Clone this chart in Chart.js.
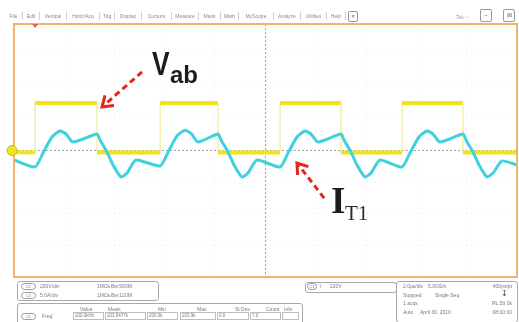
<!DOCTYPE html>
<html><head><meta charset="utf-8">
<script src="https://cdn.jsdelivr.net/npm/chart.js@4.4.0/dist/chart.umd.min.js"></script>
<style>
html,body{margin:0;padding:0;background:#fff;width:519px;height:322px;overflow:hidden;font-family:"Liberation Sans",Arial,sans-serif;}
#c{position:absolute;left:0;top:0;}
.t{position:absolute;font-size:5px;line-height:6px;color:#7a7a7a;white-space:nowrap;}
.m{position:absolute;top:12px;height:8px;font-size:5px;line-height:8px;color:#8a8a8a;border-right:1px solid #cfcfcf;text-align:center;white-space:nowrap;}
.box{position:absolute;border:1px solid #a8a8a8;border-radius:3px;background:#fff;}
.pill{position:absolute;border:1px solid #9a9a9a;border-radius:4px;width:13px;height:5px;font-size:4px;line-height:5px;text-align:center;color:#777;}
.cell{position:absolute;border:1px solid #bdbdbd;height:6px;font-size:4.5px;line-height:6px;color:#7a7a7a;padding-left:1px;white-space:nowrap;}
.btn{position:absolute;top:9px;width:10px;height:11px;border:1px solid #999;border-radius:2px;font-size:6px;line-height:11px;text-align:center;color:#666;}
</style></head><body>
<canvas id="c" width="519" height="322"></canvas>
<div id="ui"></div>
<script>
// ---- data (time in µs, 2 µs/div) ----
const timeTicks = [-10,-8,-6,-4,-2,0,2,4,6,8,10];
// Vab (V, 200 V/div)
const vabTime  = [-10,-9.16,-9.16,-6.70,-6.70,-4.19,-4.19,-1.89,-1.89,0.58,0.58,3.00,3.00,5.43,5.43,7.85,7.85,10];
const vabVolts = [-12,-12,300,300,-12,-12,300,300,-12,-12,300,300,-12,-12,300,300,-12,-12];
// I_T1 (A, 5 A/div)
const it1Time = [-10.00,
  -9.165,-8.847,-8.489,-8.171,-7.932,-7.654,
  -6.700,-6.580,-6.302,-6.063,-5.745,-5.507,-5.149,
  -4.195,-3.877,-3.519,-3.201,-2.962,-2.684,
  -1.889,-1.769,-1.491,-1.252,-0.934,-0.696,-0.338,
  0.577,0.895,1.253,1.571,1.809,2.087,
  3.002,3.121,3.400,3.638,3.956,4.195,4.553,
  5.427,5.746,6.103,6.421,6.660,6.938,
  7.853,7.972,8.250,8.489,8.807,9.046,9.404,10.0];
const it1Amps = [-1.50,
  -2.61,-0.40,2.14,3.09,2.61,1.34,
  2.61,1.66,-0.24,-2.29,-4.19,-3.56,-1.50,
  -2.45,-0.30,2.30,3.20,2.70,1.34,
  2.61,1.66,-0.24,-2.29,-4.19,-3.56,-1.50,
  -2.61,-0.40,2.14,3.09,2.61,1.34,
  2.61,1.66,-0.24,-2.29,-4.19,-3.56,-1.50,
  -2.61,-0.40,2.14,3.09,2.61,1.34,
  2.61,1.66,-0.24,-2.29,-4.19,-3.56,-1.65,-2.30];

// ---- UI text ----
const menuItems = [["File",5,23],["Edit",23,40],["Vertical",40,67],["Horiz/Acq",67,100],["Trig",100,115],["Display",115,142],["Cursors",142,172],["Measure",172,199],["Mask",199,221],["Math",221,239],["MyScope",239,274],["Analyze",274,301],["Utilities",301,327],["Help",327,346]];
const chanRows = [["C1","200V/div","1MΩ","Bw:500M"],["C2","5.0A/div","1MΩ","Bw:120M"]];
const measHeaders = [["Value",80],["Mean",108],["Min",158],["Max",197],["St Dev",235],["Count",266],["Info",284]];
const measCells = [["200.0kHz",73,30],["203.5477k",105,40],["200.0k",147,30],["203.9k",180,35],["0.0",217,31],["7.0",250,30],["",282,16]];
const acqRows = [["2.0µs/div","5.0GS/s","400ps/pt"],["Stopped","Single Seq",""],["1 acqs","","RL:50.0k"],["Auto","April 30, 2010","08:00:00"]];

const ui = document.getElementById('ui');
function add(cls, style, text){const d=document.createElement('div');d.className=cls;d.setAttribute('style',style);d.textContent=text;ui.appendChild(d);return d;}
menuItems.forEach(m=>add('m',`left:${m[1]}px;width:${m[2]-m[1]-1}px;`,m[0]));
add('btn','left:348px;width:8px;height:9px;top:11px;line-height:9px;font-size:5px;','✕');
add('t','left:456px;top:14px;color:#999;','Tek ◦◦');
add('btn','left:480px;','–');
add('btn','left:503px;','⊠');
// channel box
add('box','left:17px;top:281px;width:140px;height:18px;','');
chanRows.forEach((r,i)=>{const y=283+i*9;
  add('pill',`left:21px;top:${y}px;`,r[0]);
  add('t',`left:40px;top:${y}px;`,r[1]);
  add('t',`left:97px;top:${y}px;`,r[2]);
  add('t',`left:107px;top:${y}px;`,'↳'+r[3]);
});
// measurement box
add('box','left:17px;top:303px;width:284px;height:24px;','');
measHeaders.forEach(h=>add('t',`left:${h[1]}px;top:306px;`,h[0]));
add('pill','left:21px;top:313px;','C1');
add('t','left:42px;top:313px;','Freq\'');
measCells.forEach(c=>add('cell',`left:${c[1]}px;top:312px;width:${c[2]-2}px;`,c[0]));
// trigger box
add('box','left:305px;top:282px;width:90px;height:9px;','');
add('pill','left:307px;top:283px;width:8px;','C1');
add('t','left:320px;top:283px;color:#666;','/');
add('t','left:330px;top:283px;','220V');
// acquisition box
add('box','left:396px;top:281px;width:120px;height:40px;','');
acqRows.forEach((r,i)=>{const y=283+i*8.5;
  add('t',`left:403px;top:${y}px;`,r[0]);
  if(r[1]) add('t',`left:${i===3?420:(i===0?428:435)}px;top:${y}px;`,r[1]);
  if(r[2]) add('t',`right:${519-512}px;top:${y}px;`,r[2]);
});
add('t','left:501px;top:289px;font-size:8px;line-height:9px;color:#444;','↧');

// ---- annotations (data coords: x µs, y V) ----
const notes = {
  vArrow:{tip:[-6.50,275],tail:[-4.91,497]},
  iArrow:{tip:[1.25,-79],tail:[2.33,-301]},
  vText:{pos:[-4.51,478]}, vSub:{pos:[-3.80,427]},
  iText:{pos:[2.60,-396]}, iSub:{pos:[3.16,-440]}
};

const overlay = {
  id:'overlay',
  afterDatasetsDraw(chart){
    const {ctx, chartArea:a, scales} = chart;
    const X=v=>scales.x.getPixelForValue(v), Y=v=>scales.yV.getPixelForValue(v);
    ctx.save();
    // border
    ctx.strokeStyle='#f1b468'; ctx.lineWidth=2;
    ctx.strokeRect(a.left,a.top,a.right-a.left,a.bottom-a.top);
    // ch1 ground marker
    ctx.fillStyle='#f2e31e'; ctx.strokeStyle='#cdb800'; ctx.lineWidth=1;
    ctx.beginPath(); ctx.arc(a.left-2,Y(0),5,0,Math.PI*2); ctx.fill(); ctx.stroke();
    // trigger position marker
    const tx=X(vabTime[1]);
    ctx.fillStyle='#e0603a';
    ctx.beginPath(); ctx.moveTo(tx-3,a.top); ctx.lineTo(tx+3,a.top); ctx.lineTo(tx,a.top+4); ctx.closePath(); ctx.fill();
    // arrows
    function arrow(n){
      const x1=X(n.tail[0]),y1=Y(n.tail[1]),x2=X(n.tip[0]),y2=Y(n.tip[1]);
      const ang=Math.atan2(y2-y1,x2-x1);
      ctx.strokeStyle='#e3241f'; ctx.lineWidth=3; ctx.lineCap='butt';
      ctx.setLineDash([6,4]);
      ctx.beginPath(); ctx.moveTo(x1,y1); ctx.lineTo(x2-Math.cos(ang)*3,y2-Math.sin(ang)*3); ctx.stroke();
      ctx.setLineDash([]);
      ctx.lineJoin='miter';
      const L=12,s=0.6;
      ctx.beginPath();
      ctx.moveTo(x2-L*Math.cos(ang-s),y2-L*Math.sin(ang-s));
      ctx.lineTo(x2,y2);
      ctx.lineTo(x2-L*Math.cos(ang+s),y2-L*Math.sin(ang+s));
      ctx.stroke();
    }
    arrow(notes.vArrow); arrow(notes.iArrow);
    // texts
    ctx.fillStyle='#1c1c1c'; ctx.textBaseline='alphabetic'; ctx.textAlign='left';
    let p=notes.vText.pos;
    ctx.save(); ctx.translate(X(p[0]),Y(p[1])); ctx.scale(0.8,1);
    ctx.font='bold 33px "Liberation Sans"'; ctx.fillText('V',0,0); ctx.restore();
    p=notes.vSub.pos; ctx.font='bold 24px "Liberation Sans"'; ctx.fillText('ab',X(p[0]),Y(p[1]));
    p=notes.iText.pos; ctx.font='bold 37px "Liberation Serif"'; ctx.fillText('I',X(p[0]),Y(p[1]));
    p=notes.iSub.pos; ctx.fillStyle='#2a2a2a'; ctx.font='21px "Liberation Serif"'; ctx.fillText('T1',X(p[0]),Y(p[1]));
    ctx.restore();
  }
};

const isVert = c => c.p0.parsed.x === c.p1.parsed.x;
const gridColor = c => (c.tick && c.tick.value === 0) ? 'rgba(120,120,120,0.7)' : 'rgba(0,0,0,0.035)';

new Chart(document.getElementById('c'), {
  type:'line',
  data:{datasets:[
    {label:'I_T1', data: it1Time.map((t,i)=>({x:t,y:it1Amps[i]})), yAxisID:'yA',
     borderColor:'#3fd2de', borderWidth:3, pointRadius:0, tension:0.2, order:0, fill:false},
    {label:'Vab', data: vabTime.map((t,i)=>({x:t,y:vabVolts[i]})), yAxisID:'yV',
     borderColor:'#f1e31b', borderWidth:4, pointRadius:0, tension:0, order:1, fill:false,
     segment:{borderWidth:c=>isVert(c)?1.2:4, borderColor:c=>isVert(c)?'#f3eb95':'#f1e31b'}}
  ]},
  options:{
    responsive:false, animation:false, devicePixelRatio:1,
    layout:{padding:{left:14,top:24,right:2,bottom:45}},
    plugins:{legend:{display:false},tooltip:{enabled:false}},
    scales:{
      x:{type:'linear',min:-10,max:10,afterBuildTicks:s=>{s.ticks=timeTicks.map(v=>({value:v}));},
         ticks:{display:false},grid:{drawTicks:false,color:gridColor,lineWidth:1},border:{display:false,dash:[2,2]}},
      yV:{type:'linear',position:'left',min:-800,max:800,ticks:{display:false,stepSize:200},
         grid:{drawTicks:false,color:gridColor,lineWidth:1},border:{display:false,dash:[2,2]}},
      yA:{type:'linear',position:'right',min:-20,max:20,ticks:{display:false},
         grid:{display:false,drawTicks:false},border:{display:false}}
    }
  },
  plugins:[overlay]
});
</script>
</body></html>
